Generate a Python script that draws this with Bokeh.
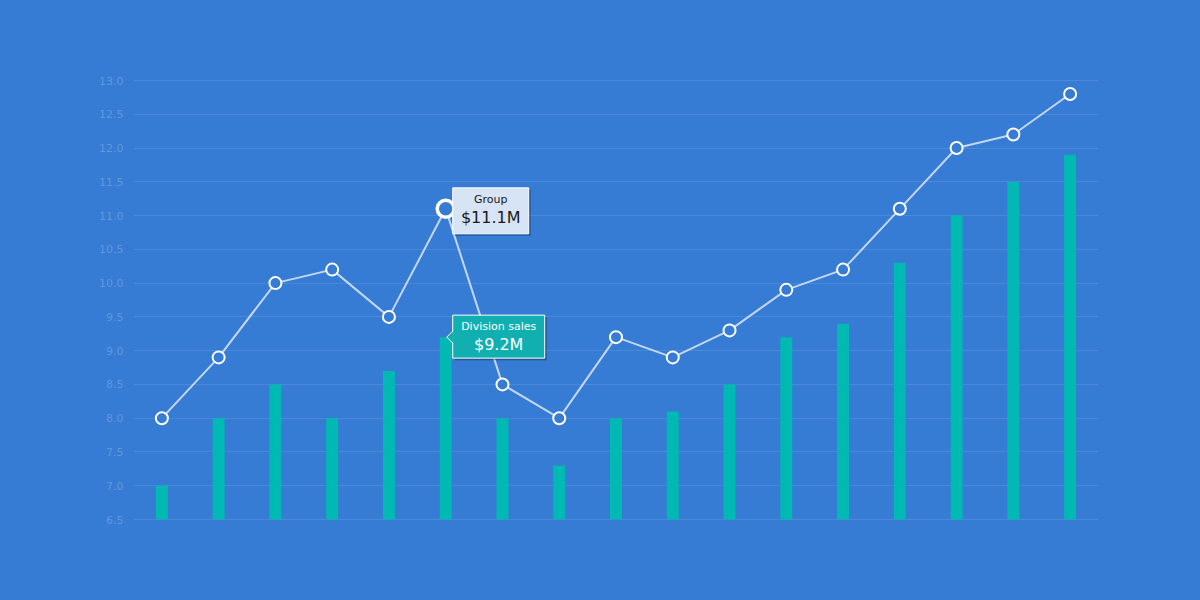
from bokeh.plotting import figure
from bokeh.models import Range1d, FixedTicker, NumeralTickFormatter
from bokeh.embed import file_html
from bokeh.resources import INLINE
from bokeh.core.properties import value

# ---- data -------------------------------------------------------------
periods = [str(i) for i in range(1, 18)]
division_sales = [7.0, 8.0, 8.5, 8.0, 8.7, 9.2, 8.0, 7.3, 8.0, 8.1,
                  8.5, 9.2, 9.4, 10.3, 11.0, 11.5, 11.9]
group_sales = [8.0, 8.9, 10.0, 10.2, 9.5, 11.1, 8.5, 8.0, 9.2, 8.9,
               9.3, 9.9, 10.2, 11.1, 12.0, 12.2, 12.8]
y_ticks = [6.5, 7.0, 7.5, 8.0, 8.5, 9.0, 9.5, 10.0, 10.5, 11.0, 11.5,
           12.0, 12.5, 13.0]
focus = 5  # period whose values are called out

# ---- styling ----------------------------------------------------------
BG = "#367bd4"
BAR = "#00b9b3"
FONT = value("DejaVu Sans")

W, H = 1200, 600
LEFT, RIGHT, TOP, BOTTOM = 133, 102, 79, 80
FRAME_W = W - LEFT - RIGHT
FRAME_H = H - TOP - BOTTOM          # includes 1 px of headroom each side

y_min, y_max = y_ticks[0], y_ticks[-1]
n = len(periods)
xs = [i + 0.5 for i in range(n)]

# data units per screen pixel
sx = n / FRAME_W
sy = (y_max - y_min) / (FRAME_H - 2)

p = figure(width=W, height=H, output_backend="svg", toolbar_location=None,
           x_range=Range1d(0, n), y_range=Range1d(y_min - sy, y_max + sy),
           min_border_left=LEFT, min_border_right=RIGHT,
           min_border_top=TOP, min_border_bottom=BOTTOM)
p.background_fill_color = BG
p.border_fill_color = BG
p.outline_line_color = None
p.styles = {"border": "none", "outline": "none"}

p.xaxis.visible = False
p.xgrid.visible = False

p.yaxis.ticker = FixedTicker(ticks=y_ticks)
p.yaxis.formatter = NumeralTickFormatter(format="0.0")
p.yaxis.axis_line_color = None
p.yaxis.major_tick_line_color = None
p.yaxis.minor_tick_line_color = None
p.yaxis.major_tick_out = 0
p.yaxis.major_tick_in = 0
p.yaxis.major_label_standoff = 10
p.yaxis.major_label_text_color = "#ffffff"
p.yaxis.major_label_text_alpha = 0.22
p.yaxis.major_label_text_font = "DejaVu Sans"
p.yaxis.major_label_text_font_size = "11px"

p.ygrid.ticker = FixedTicker(ticks=y_ticks)
p.ygrid.grid_line_color = "#ffffff"
p.ygrid.grid_line_alpha = 0.1

# ---- bars: division sales --------------------------------------------
p.vbar(x=xs, top=division_sales, bottom=y_min, width=12 * sx,
       fill_color=BAR, line_color=None)

# ---- line: group ------------------------------------------------------
p.line(xs, group_sales, line_color="#ffffff", line_alpha=0.7, line_width=2)
p.scatter(xs, group_sales, size=12, fill_color=BG, line_color="#ffffff",
          line_width=2)
p.scatter([xs[focus]], [group_sales[focus]], size=17, fill_color=BG,
          line_color="#ffffff", line_width=3.5)

# ---- callouts ---------------------------------------------------------
fx = xs[focus]
g = group_sales[focus]
d = division_sales[focus]


def callout_box(x0, x1, yc, up, down, fill):
    # drop shadow, then the box itself
    p.quad(left=x0 + 2 * sx, right=x1 + 2 * sx, top=yc + up * sy - 2 * sy,
           bottom=yc - down * sy - 2 * sy, fill_color="#000000",
           fill_alpha=0.3, line_color=None)
    p.quad(left=x0, right=x1, top=yc + up * sy, bottom=yc - down * sy,
           fill_color=fill, line_color="#ffffff", line_width=1)
    return (x0 + x1) / 2


# Group callout, to the right of the highlighted point
gx0, gx1 = fx + 7 * sx, fx + 83 * sx
gcx = callout_box(gx0, gx1, g, 21, 25, "#d6e4f5")
p.text([gcx], [g + 9 * sy], text=["Group"], text_font=FONT,
       text_font_size="11px", text_color="#1a1a1a", text_align="center",
       text_baseline="middle")
p.text([gcx], [g - 9 * sy], text=[f"${g:.1f}M"], text_font=FONT,
       text_font_size="16px", text_color="#1a1a1a", text_align="center",
       text_baseline="middle")

# Division sales callout, pointing at the bar top
dx0, dx1 = fx + 7 * sx, fx + 99 * sx
TEAL = "#12afb0"
dcx = callout_box(dx0, dx1, d, 22, 21, TEAL)
tri_x = [dx0 + 1 * sx, dx0 - 6 * sx, dx0 + 1 * sx]
tri_y = [d + 6 * sy, d, d - 6 * sy]
p.patch(tri_x, tri_y, fill_color=TEAL, line_color=None)
p.line([dx0, dx0 - 6 * sx, dx0], tri_y, line_color="#ffffff", line_width=1)
p.text([dcx], [d + 11 * sy], text=["Division sales"], text_font=FONT,
       text_font_size="11px", text_color="#ffffff", text_align="center",
       text_baseline="middle")
p.text([dcx], [d - 7 * sy], text=[f"${d:.1f}M"], text_font=FONT,
       text_font_size="16px", text_color="#ffffff", text_align="center",
       text_baseline="middle")

html = file_html(p, INLINE)
# page background in the chart colour so no seams show at the frame edges
html = html.replace(
    "</head>",
    f"<style>html, body {{ margin: 0; background: {BG}; }}</style></head>", 1)
open("out.html", "w").write(html)
